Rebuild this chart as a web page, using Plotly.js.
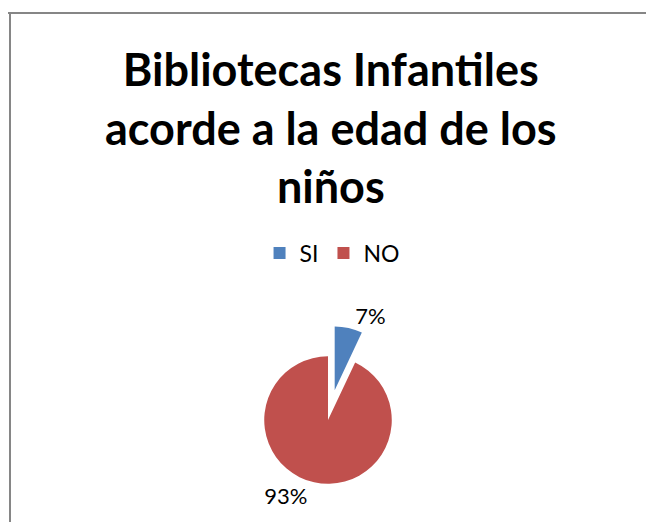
<!DOCTYPE html>
<html>
<head>
<meta charset="utf-8">
<script src="https://cdn.plot.ly/plotly-3.0.1.min.js"></script>
<style>html,body{margin:0;padding:0;background:#fff;}#chart{width:646px;height:522px;}</style>
</head>
<body>
<div id="chart"></div>
<script>
const categories = ["SI", "NO"];
const values = [7, 93];
const colors = ["#4F81BD", "#C0504D"];
const titleText = "Bibliotecas Infantiles<br>acorde a la edad de los<br>niños";

const data = [{
  type: "pie",
  labels: categories,
  values: values,
  marker: {colors: colors},
  sort: false,
  direction: "clockwise",
  rotation: 0,
  pull: [0.48, 0],
  textinfo: "percent",
  texttemplate: "%{percent:.0%}",
  textposition: "outside",
  textfont: {family: "Lato, 'Open Sans', sans-serif", size: 22, color: "#000"},
  hoverinfo: "none",
  domain: {x: [0.3615, 0.654], y: [0.0144, 0.376]}
}];

const layout = {
  width: 646,
  height: 522,
  margin: {l: 0, r: 0, t: 0, b: 0},
  paper_bgcolor: "#fff",
  font: {family: "Lato, 'Open Sans', sans-serif", color: "#000"},
  annotations: [{
    text: titleText,
    font: {family: "Lato, 'Open Sans', sans-serif", size: 45, weight: "bold", color: "#000"},
    xref: "paper", yref: "paper",
    x: 0.512, xanchor: "center",
    y: 1 - 40/522, yanchor: "top",
    showarrow: false
  }],
  showlegend: true,
  legend: {
    orientation: "h",
    x: 0.514, xanchor: "center",
    y: 1 - 253/522, yanchor: "middle",
    font: {size: 23, color: "#000"},
    itemwidth: 30,
    itemclick: false
  },
  shapes: [
    {type: "line", xref: "paper", yref: "paper", x0: 8/646, x1: 1, y0: 1 - 13/522, y1: 1 - 13/522, line: {color: "#868686", width: 2}},
    {type: "line", xref: "paper", yref: "paper", x0: 10/646, x1: 10/646, y0: 1 - 13/522, y1: 0, line: {color: "#868686", width: 2}}
  ]
};

Plotly.newPlot("chart", data, layout, {displayModeBar: false, staticPlot: true});
</script>
</body>
</html>
